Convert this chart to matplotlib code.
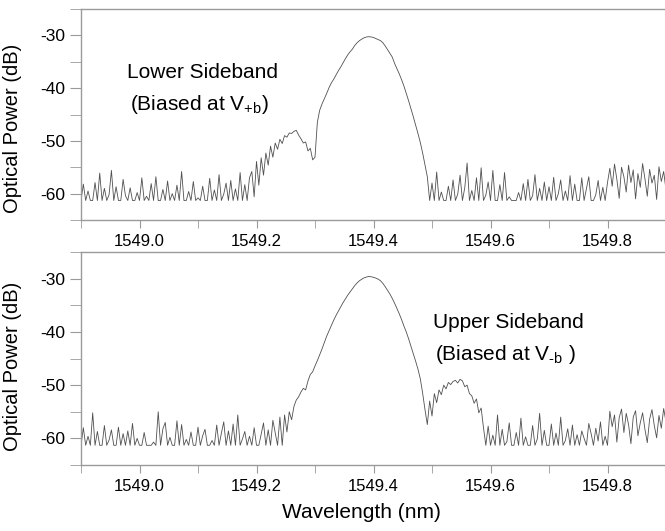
import numpy as np
import matplotlib.pyplot as plt

plt.rcParams['font.family'] = ['Liberation Sans', 'DejaVu Sans']
plt.rcParams['mathtext.fontset'] = 'custom'
plt.rcParams['mathtext.rm'] = 'Liberation Sans'
plt.rcParams['axes.unicode_minus'] = False

# wavelength grid of the OSA trace (nm)
wl_start = 1548.9
wl_step = 0.004

# --- lower sideband trace (top panel), dB ---
lsb_floor_left = [
    -61.3, -58.2, -61.3, -59.5, -61.3, -61.3, -57.9, -61.3, -56.1, -61.3,
    -59.0, -61.3, -60.2, -55.6, -61.3, -58.7, -61.3, -61.3, -57.3, -60.4,
    -61.3, -58.9, -61.3, -61.3, -59.8, -61.3, -57.0, -61.3, -60.5, -61.3,
    -58.1, -61.3, -56.8, -61.3, -61.3, -59.2, -61.3, -57.6, -61.3, -60.0,
    -61.3, -58.4, -61.3, -55.8, -61.3, -61.3, -59.6, -61.3, -57.7, -61.3,
    -60.8, -61.3, -58.6, -61.3, -61.3, -57.1, -61.3, -59.3, -61.3, -56.4,
    -61.3, -60.1, -58.0, -61.3, -57.5, -61.3, -59.1, -61.3, -56.0, -61.3,
    -58.3, -61.3, -57.0]
lsb_rise = [-55.8, -60.6, -53.9, -58.4, -53.2, -56.5]
lsb_sideband = [
    -52.3, -54.6, -51.0, -53.1, -50.4, -51.6, -49.7, -50.5, -49.0, -49.3,
    -48.5, -48.6, -48.2, -48.0, -48.9, -49.6, -50.4, -50.2, -51.9,
    -51.4, -53.6, -53.1]
lsb_carrier = [
    -46.5, -44.2, -43.0, -42.0, -41.0, -39.9, -39.0, -38.3, -37.5, -36.7,
    -36.0, -35.2, -34.4, -33.7, -33.1, -32.6, -31.9, -31.4, -31.0, -30.7,
    -30.45, -30.3, -30.25, -30.3, -30.4, -30.6, -30.8, -31.0, -31.4, -32.0,
    -32.7, -33.4, -34.1, -35.3, -36.3, -37.3, -38.4, -39.6, -41.0, -42.4,
    -43.9, -45.4, -47.0, -48.6, -50.3, -52.3, -54.5, -56.8]
lsb_floor_right = [
    -61.3, -58.0, -61.3, -55.9, -61.3, -59.7, -61.3, -61.3, -58.6, -61.3,
    -57.4, -61.3, -60.1, -56.5, -61.3, -58.9, -54.2, -61.3, -59.4, -61.3,
    -57.0, -61.3, -55.1, -61.3, -60.3, -57.8, -61.3, -55.6, -61.3, -61.3,
    -58.3, -61.3, -56.0, -61.3, -60.6, -61.3, -61.3, -61.3, -59.8, -61.3,
    -58.1, -61.3, -57.3, -61.3, -60.4, -56.4, -61.3, -59.0, -61.3, -57.8,
    -61.3, -58.7, -61.3, -56.9, -61.3, -60.0, -57.4, -61.3, -59.5, -61.3,
    -56.6, -61.3, -58.2, -61.3, -61.3, -57.0, -61.3, -59.1, -56.8, -61.3,
    -61.3, -60.2, -57.5, -61.3, -58.8, -61.3, -57.9]
lsb_floor_edge = [
    -55.2, -58.6, -54.4, -57.3, -60.9, -55.0, -56.8, -59.7, -54.6, -57.9,
    -55.5, -61.0, -56.2, -58.8, -54.3, -57.2, -60.5, -55.4, -58.0, -56.5,
    -61.1, -54.9, -57.7, -55.8, -59.3]

# --- upper sideband trace (bottom panel), dB ---
usb_floor_left = [
    -61.3, -58.0, -61.3, -59.6, -61.3, -55.2, -61.3, -58.7, -61.3, -61.3,
    -57.6, -61.3, -60.3, -58.4, -61.3, -61.3, -57.9, -61.3, -59.1, -61.3,
    -58.6, -61.3, -57.2, -61.3, -60.0, -61.3, -61.3, -58.9, -61.3, -61.3,
    -61.3, -60.7, -61.3, -55.0, -61.3, -58.2, -57.0, -61.3, -59.8, -61.3,
    -61.3, -56.7, -61.3, -57.4, -61.3, -60.2, -61.3, -58.8, -61.3, -61.3,
    -57.9, -61.3, -59.5, -58.3, -61.3, -61.3, -60.4, -61.3, -57.5, -61.3,
    -59.0, -56.9, -61.3, -58.6, -61.3, -57.3, -61.3, -55.6, -61.3, -60.1,
    -58.7, -61.3, -59.6, -61.3, -58.0, -61.3, -61.3, -59.2, -57.1, -61.3,
    -58.4, -61.3, -56.6, -58.9, -61.3, -56.0, -61.3]
usb_rise = [-55.6, -58.8, -55.0, -56.5]
usb_carrier = [
    -54.0, -52.8, -52.2, -51.3, -50.6, -50.9, -49.2, -48.0, -47.5, -46.4,
    -45.4, -44.3, -43.2, -42.0, -40.8, -39.8, -38.8, -37.8, -36.9, -36.1,
    -35.3, -34.5, -33.8, -33.1, -32.5, -31.9, -31.3, -30.8, -30.4, -30.1,
    -29.85, -29.7, -29.6, -29.65, -29.75, -29.9, -30.1, -30.4, -30.9, -31.5,
    -32.2, -32.9, -33.7, -34.6, -35.6, -36.6, -37.7, -38.9, -40.0, -41.3,
    -42.7, -44.1, -45.5, -47.0, -48.8, -51.5]
usb_sideband = [
    -54.6, -57.4, -53.0, -55.8, -51.6, -53.3, -50.9, -51.8, -50.0, -50.7,
    -49.5, -49.9, -49.3, -49.1, -49.6, -48.9, -49.2, -50.3, -50.0, -51.6,
    -52.0, -53.4, -52.6, -55.2, -54.3, -58.0]
usb_floor_right = [
    -61.3, -57.7, -61.3, -59.4, -61.3, -55.6, -61.3, -58.3, -61.3, -60.6,
    -57.1, -61.3, -61.3, -58.9, -61.3, -56.2, -61.3, -59.7, -61.3, -61.3,
    -57.6, -61.3, -60.1, -55.3, -61.3, -58.5, -61.3, -61.3, -57.3, -61.3,
    -59.0, -61.3, -56.0, -61.3, -60.4, -58.2, -61.3, -57.5, -61.3, -59.3,
    -61.3, -58.6, -60.0, -61.3, -57.2, -59.1, -61.3, -58.1, -60.5, -56.9,
    -61.3, -59.6, -61.3]
usb_floor_edge = [
    -54.9, -57.8, -55.6, -60.7, -56.1, -54.5, -58.9, -55.3, -57.4, -61.0,
    -56.0, -54.8, -59.5, -57.1, -55.2, -58.3, -60.8, -56.4, -54.6, -57.6,
    -59.9, -55.7, -58.1, -54.4, -56.9]

xticks = [1549.0, 1549.2, 1549.4, 1549.6, 1549.8]
yticks = [-60, -50, -40, -30]

lsb = np.array(lsb_floor_left + lsb_rise + lsb_sideband + lsb_carrier
               + lsb_floor_right + lsb_floor_edge)
usb = np.array(usb_floor_left + usb_rise + usb_carrier + usb_sideband
               + usb_floor_right + usb_floor_edge)
wl_lsb = wl_start + wl_step * np.arange(len(lsb))
wl_usb = wl_start + wl_step * np.arange(len(usb))

fig = plt.figure(figsize=(6.65, 5.31), dpi=100)
ax1 = fig.add_axes([81/665, 1 - 220/531, 585/665, 211/531])
ax2 = fig.add_axes([81/665, 1 - 465/531, 585/665, 213/531])

spine_col = '#9a9a9a'
for ax, wl, p in [(ax1, wl_lsb, lsb), (ax2, wl_usb, usb)]:
    ax.plot(wl, p, color='#505050', lw=0.6)
    ax.set_xlim(1548.9, 1549.896)
    ax.set_ylim(-65, -25)
    ax.set_xticks(xticks)
    ax.set_xticklabels(['%.1f' % t for t in xticks])
    ax.set_xticks(np.arange(1548.9, 1549.95, 0.1), minor=True)
    ax.set_yticks(yticks)
    ax.set_yticks([-65, -55, -45, -35, -25], minor=True)
    ax.spines['right'].set_visible(False)
    for s in ['left', 'top', 'bottom']:
        ax.spines[s].set_color(spine_col)
        ax.spines[s].set_linewidth(1.0)
    ax.tick_params(axis='x', which='both', direction='out', length=6,
                   color=spine_col, labelsize=12, pad=4)
    ax.tick_params(axis='y', which='both', direction='out', length=8,
                   color=spine_col, labelsize=12.5, pad=3)
    ax.set_ylabel('Optical Power (dB)', fontsize=14.5)

ax1.yaxis.set_label_coords(-0.101, 0.436)
ax2.yaxis.set_label_coords(-0.101, 0.462)

ax2.set_xlabel('Wavelength (nm)', fontsize=15)
ax2.xaxis.set_label_coords(0.479, -0.18)

ax1.text(1549.108, -37.0, 'Lower Sideband', fontsize=15, ha='center', va='center')
ax1.text(1549.103, -43.1, r'(Biased at V$_{\mathregular{+b}}$)', fontsize=15,
         ha='center', va='center')
ax2.text(1549.630, -38.3, 'Upper Sideband', fontsize=15, ha='center', va='center')
ax2.text(1549.625, -44.3, '(Biased at V$_{\\mathregular{\u2010b}}$ )', fontsize=15,
         ha='center', va='center')

fig.savefig('out.png', dpi=100)
